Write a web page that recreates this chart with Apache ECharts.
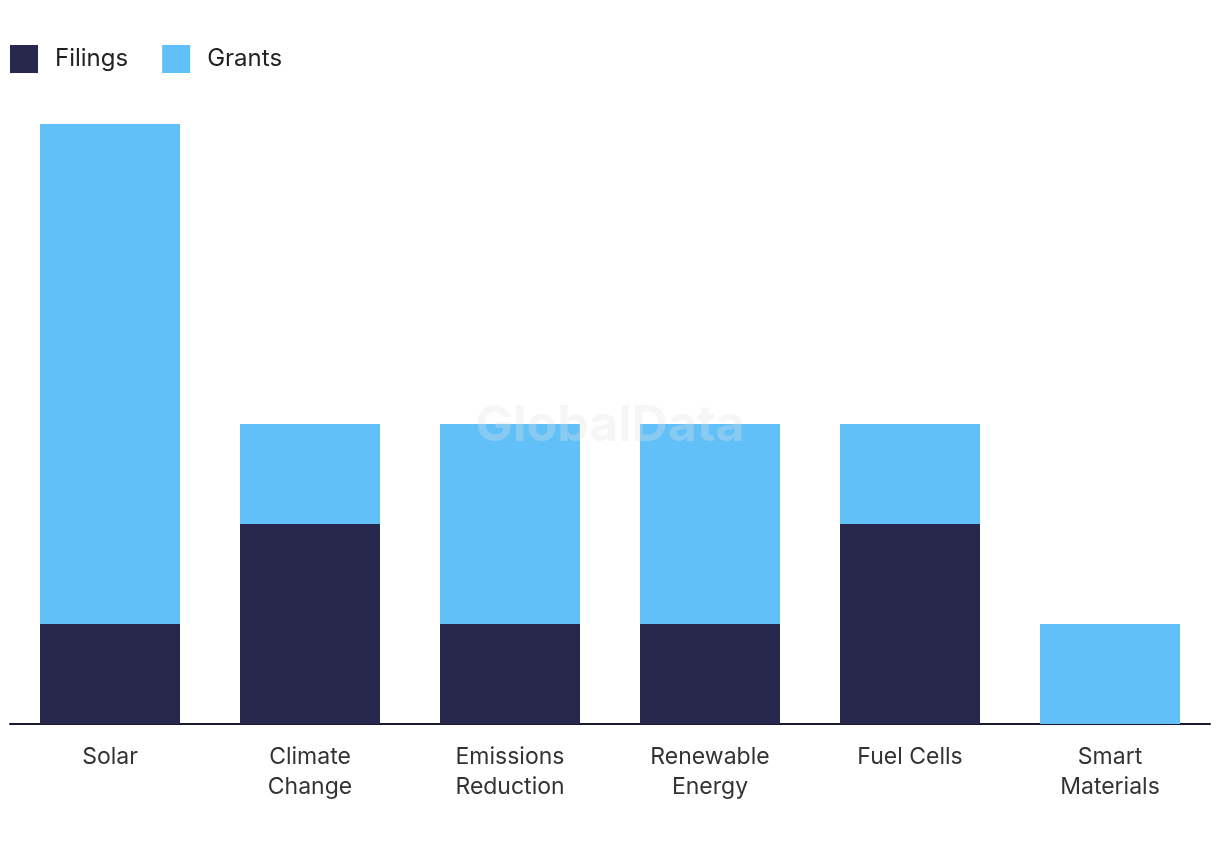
<!DOCTYPE html>
<html>
<head>
<meta charset="utf-8">
<script src="https://cdn.jsdelivr.net/npm/echarts@6/dist/echarts.min.js"></script>
<style>html,body{margin:0;padding:0;background:#fff;}#c{width:1220px;height:850px;}</style>
</head>
<body>
<div id="c"></div>
<script>
var categories = ['Solar', 'Climate\nChange', 'Emissions\nReduction', 'Renewable\nEnergy', 'Fuel Cells', 'Smart\nMaterials'];
var filings = [1, 2, 1, 1, 2, 0];
var grants = [5, 1, 2, 2, 1, 1];

var chart = echarts.init(document.getElementById('c'), null, {renderer: 'canvas'});
chart.setOption({
  animation: false,
  backgroundColor: '#ffffff',
  textStyle: {fontFamily: 'Inter, "Noto Sans", sans-serif'},
  legend: {
    left: 10, top: 45, padding: 0,
    itemWidth: 28, itemHeight: 28, itemGap: 34,
    icon: 'rect',
    textStyle: {fontSize: 24, color: '#222', padding: [0, 0, 0, 12], fontFamily: 'Inter, "Noto Sans", sans-serif'},
    data: ['Filings', 'Grants']
  },
  grid: {left: 10, right: 10, top: 124, bottom: 126, containLabel: false},
  xAxis: {
    type: 'category',
    data: categories,
    axisLine: {lineStyle: {color: '#1a1a2e', width: 2}},
    axisTick: {show: false},
    axisLabel: {fontSize: 23, color: '#333', lineHeight: 30, margin: 18, interval: 0, fontFamily: 'Inter, "Noto Sans", sans-serif'}
  },
  yAxis: {
    type: 'value', min: 0, max: 6, interval: 1,
    show: false,
    splitLine: {show: false}
  },
  series: [
    {name: 'Filings', type: 'bar', stack: 'a', data: filings, barWidth: '70%', itemStyle: {color: '#28284c'}},
    {name: 'Grants', type: 'bar', stack: 'a', data: grants, barWidth: '70%', itemStyle: {color: '#62c0f8'}}
  ],
  graphic: [{
    type: 'text', left: 'center', top: 401, z: 100,
    style: {text: 'GlobalData', fontSize: 50, fontWeight: 'bold', fill: 'rgba(225,225,225,0.3)', fontFamily: 'Inter, "Noto Sans", sans-serif'}
  }]
});
</script>
</body>
</html>
